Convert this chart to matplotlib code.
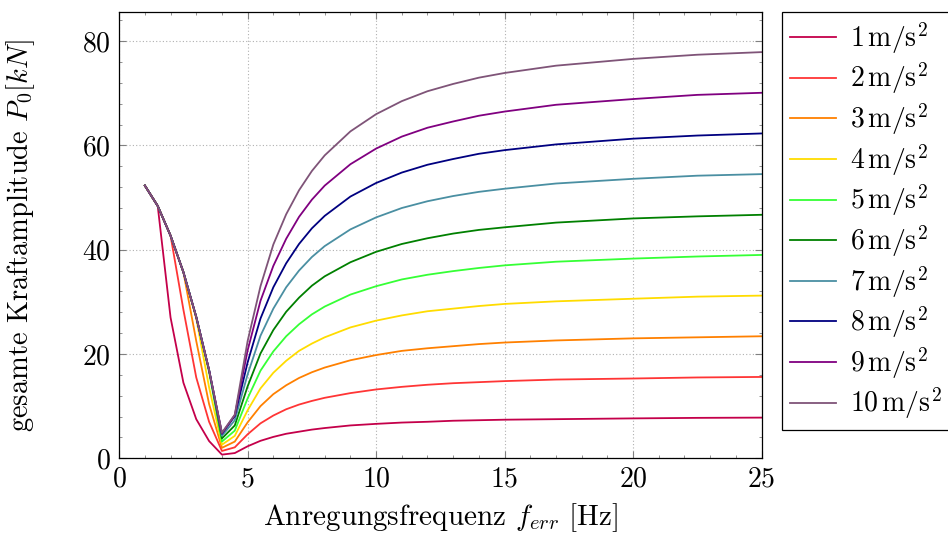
import matplotlib
matplotlib.use("Agg")
import matplotlib.pyplot as plt
from matplotlib.ticker import MultipleLocator

plt.rcParams["font.family"] = ["cmr10", "DejaVu Serif"]
plt.rcParams["mathtext.fontset"] = "cm"
plt.rcParams["axes.formatter.use_mathtext"] = True
plt.rcParams["font.size"] = 20

# excitation frequency [Hz]
freq = [1, 1.5, 2, 2.5, 3, 3.5, 4, 4.5, 5, 5.5, 6, 6.5, 7, 7.5, 8, 9, 10,
        11, 12, 13, 14, 15, 17, 20, 22.5, 25]

# total force amplitude [kN] per acceleration level
p_1 = [52.3, 48.4, 27.0, 14.5, 7.5, 3.3, 0.7, 1.0, 2.3, 3.35, 4.1, 4.7, 5.1,
       5.5, 5.8, 6.3, 6.6, 6.85, 7.0, 7.2, 7.3, 7.4, 7.5, 7.65, 7.75, 7.8]
p_2 = [52.3, 48.4, 42.7, 28.5, 15.5, 7.0, 1.4, 2.1, 4.6, 6.7, 8.2, 9.4, 10.3,
       11.0, 11.6, 12.5, 13.2, 13.7, 14.1, 14.4, 14.6, 14.8, 15.1, 15.3, 15.5, 15.6]
p_3 = [52.3, 48.4, 42.7, 35.7, 22.5, 10.4, 2.0, 3.2, 6.9, 10.0, 12.3, 14.0, 15.4,
       16.5, 17.4, 18.8, 19.8, 20.6, 21.1, 21.5, 21.9, 22.2, 22.6, 23.0, 23.2, 23.4]
p_4 = [52.3, 48.4, 42.7, 35.7, 26.8, 13.6, 2.6, 4.3, 9.2, 13.4, 16.4, 18.7, 20.6,
       22.0, 23.2, 25.1, 26.4, 27.4, 28.2, 28.7, 29.2, 29.6, 30.1, 30.6, 31.0, 31.2]
p_5 = [52.3, 48.4, 42.7, 35.7, 27.1, 16.5, 3.2, 5.3, 11.5, 16.8, 20.5, 23.4, 25.7,
       27.6, 29.1, 31.4, 33.0, 34.3, 35.2, 35.9, 36.5, 37.0, 37.7, 38.3, 38.7, 39.0]
p_6 = [52.3, 48.4, 42.7, 35.7, 27.1, 16.9, 3.8, 6.3, 13.8, 20.1, 24.6, 28.1, 30.8,
       33.1, 34.9, 37.6, 39.6, 41.1, 42.2, 43.1, 43.8, 44.3, 45.2, 46.0, 46.4, 46.7]
p_7 = [52.3, 48.4, 42.7, 35.7, 27.1, 16.9, 4.3, 7.3, 16.1, 23.5, 28.7, 32.8, 36.0,
       38.6, 40.7, 43.9, 46.2, 48.0, 49.3, 50.3, 51.1, 51.7, 52.7, 53.6, 54.2, 54.5]
p_8 = [52.3, 48.4, 42.7, 35.7, 27.1, 16.9, 4.7, 8.1, 18.4, 26.8, 32.8, 37.4, 41.1,
       44.1, 46.5, 50.2, 52.8, 54.8, 56.3, 57.4, 58.4, 59.1, 60.2, 61.3, 61.9, 62.3]
p_9 = [52.3, 48.4, 42.7, 35.7, 27.1, 16.9, 4.8, 8.3, 20.7, 30.2, 36.9, 42.1, 46.3,
       49.6, 52.3, 56.4, 59.4, 61.7, 63.4, 64.6, 65.7, 66.5, 67.8, 68.9, 69.7, 70.1]
p_10 = [52.3, 48.4, 42.7, 35.7, 27.1, 16.9, 4.9, 8.35, 22.5, 33.0, 41.0, 46.8, 51.4,
        55.1, 58.1, 62.7, 66.0, 68.5, 70.4, 71.8, 73.0, 73.9, 75.3, 76.6, 77.4, 77.9]

series = [p_1, p_2, p_3, p_4, p_5, p_6, p_7, p_8, p_9, p_10]
accel = [1, 2, 3, 4, 5, 6, 7, 8, 9, 10]
colors = ["#c4004a", "#ff3535", "#ff8000", "#ffdc00", "#35ff35",
          "#008000", "#4a8fa2", "#000080", "#800080", "#7f5478"]

fig = plt.figure(figsize=(9.48, 5.37), dpi=100)
ax = fig.add_axes([0.1257, 0.1466, 0.6776, 0.8311])

for a, vals, col in zip(accel, series, colors):
    ax.plot(freq, vals, color=col, lw=1.3,
            label=r"$%d\,\mathrm{m/s}^2$" % a)

ax.set_xlim(0, 25)
ax.set_ylim(0, 85.6)
ax.xaxis.set_major_locator(MultipleLocator(5))
ax.yaxis.set_major_locator(MultipleLocator(20))
ax.xaxis.set_minor_locator(MultipleLocator(1))
ax.yaxis.set_minor_locator(MultipleLocator(4))
ax.grid(which="major", linestyle=(0, (1, 2)), color="#b0b0b0", lw=0.8)
ax.tick_params(which="both", direction="in", top=True, right=True,
               color="#808080", labelsize=20, pad=6)
ax.tick_params(which="major", length=5)
ax.tick_params(which="minor", length=2.5)
for sp in ax.spines.values():
    sp.set_linewidth(0.9)

ax.set_xlabel(r"Anregungsfrequenz $f_{err}$ [Hz]", fontsize=21, labelpad=6)
ax.set_ylabel(r"gesamte Kraftamplitude $P_0[kN]$", fontsize=20.5)
ax.yaxis.set_label_coords(-0.128, 0.5)

leg = fig.legend(loc="upper left", bbox_to_anchor=(0.8246, 0.978),
                 borderaxespad=0, fancybox=False, edgecolor="black",
                 framealpha=1, fontsize=20, handlelength=1.65,
                 labelspacing=0.18, borderpad=0.3, handletextpad=0.5)
leg.get_frame().set_linewidth(0.9)

fig.savefig("out.png", dpi=100)
